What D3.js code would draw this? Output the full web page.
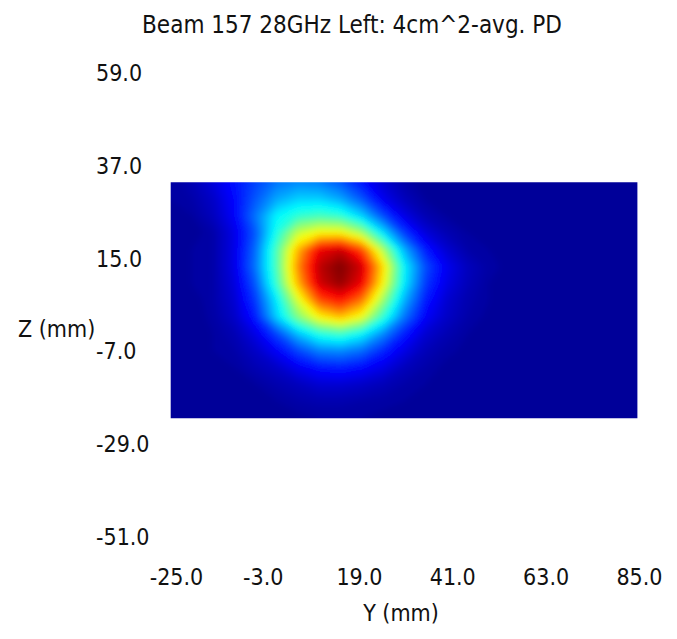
<!DOCTYPE html>
<html lang="en">
<head>
<meta charset="utf-8">
<title>Beam 157 28GHz Left: 4cm^2-avg. PD</title>
<script src="https://cdn.jsdelivr.net/npm/d3@7"></script>
<style>
body { margin: 0; background: #fff; }
svg text { font-family: "DejaVu Sans Condensed", "DejaVu Sans", sans-serif; font-size: 23px; fill: #111; }
svg text.title { font-size: 24px; }
</style>
</head>
<body>
<script>
// sample positions of the PD grid (mm)
var yPos = [-25, -20, -15, -10, -5, 0, 5, 10, 15, 20, 25, 30, 35, 40, 45, 50, 55, 60, 65, 70, 75, 80, 85];
var zPos = [33, 29, 25, 21, 17, 13, 9, 5, 1, -3, -7, -11, -15, -19, -23];

// normalised 4cm^2-avg. power density, one row per Z (top to bottom)
var pd = [
  [0.03, 0.05, 0.09, 0.14, 0.19, 0.24, 0.26, 0.25, 0.21, 0.14, 0.08, 0.04, 0.02, 0.02, 0.02, 0.02, 0.02, 0.02, 0.02, 0.02, 0.02, 0.02, 0.02],
  [0.03, 0.04, 0.07, 0.13, 0.21, 0.29, 0.33, 0.33, 0.29, 0.21, 0.11, 0.06, 0.03, 0.02, 0.02, 0.02, 0.02, 0.02, 0.02, 0.02, 0.02, 0.02, 0.02],
  [0.02, 0.03, 0.06, 0.12, 0.24, 0.37, 0.42, 0.44, 0.42, 0.33, 0.20, 0.10, 0.05, 0.03, 0.02, 0.02, 0.02, 0.02, 0.02, 0.02, 0.02, 0.02, 0.02],
  [0.02, 0.02, 0.04, 0.10, 0.21, 0.40, 0.57, 0.63, 0.63, 0.54, 0.35, 0.18, 0.09, 0.05, 0.03, 0.02, 0.02, 0.02, 0.02, 0.02, 0.02, 0.02, 0.02],
  [0.02, 0.03, 0.04, 0.10, 0.23, 0.45, 0.70, 0.89, 0.93, 0.81, 0.55, 0.30, 0.15, 0.08, 0.04, 0.03, 0.02, 0.02, 0.02, 0.02, 0.02, 0.02, 0.02],
  [0.02, 0.03, 0.04, 0.10, 0.24, 0.45, 0.74, 0.94, 1.00, 0.92, 0.66, 0.37, 0.20, 0.11, 0.06, 0.035, 0.025, 0.02, 0.02, 0.02, 0.02, 0.02, 0.02],
  [0.02, 0.03, 0.04, 0.09, 0.21, 0.43, 0.70, 0.92, 0.98, 0.89, 0.63, 0.36, 0.18, 0.10, 0.055, 0.03, 0.02, 0.02, 0.02, 0.02, 0.02, 0.02, 0.02],
  [0.02, 0.02, 0.04, 0.08, 0.18, 0.36, 0.59, 0.80, 0.86, 0.76, 0.53, 0.30, 0.15, 0.08, 0.045, 0.03, 0.02, 0.02, 0.02, 0.02, 0.02, 0.02, 0.02],
  [0.02, 0.02, 0.035, 0.07, 0.15, 0.33, 0.50, 0.63, 0.69, 0.61, 0.42, 0.24, 0.12, 0.07, 0.04, 0.025, 0.02, 0.02, 0.02, 0.02, 0.02, 0.02, 0.02],
  [0.02, 0.02, 0.03, 0.05, 0.10, 0.19, 0.31, 0.40, 0.43, 0.37, 0.26, 0.15, 0.08, 0.05, 0.03, 0.02, 0.02, 0.02, 0.02, 0.02, 0.02, 0.02, 0.02],
  [0.02, 0.02, 0.03, 0.04, 0.07, 0.12, 0.19, 0.25, 0.26, 0.23, 0.16, 0.10, 0.055, 0.035, 0.025, 0.02, 0.02, 0.02, 0.02, 0.02, 0.02, 0.02, 0.02],
  [0.02, 0.02, 0.02, 0.03, 0.05, 0.07, 0.11, 0.14, 0.15, 0.13, 0.10, 0.06, 0.04, 0.025, 0.02, 0.02, 0.02, 0.02, 0.02, 0.02, 0.02, 0.02, 0.02],
  [0.02, 0.02, 0.02, 0.025, 0.03, 0.045, 0.06, 0.08, 0.08, 0.07, 0.055, 0.04, 0.03, 0.02, 0.02, 0.02, 0.02, 0.02, 0.02, 0.02, 0.02, 0.02, 0.02],
  [0.02, 0.02, 0.02, 0.02, 0.025, 0.03, 0.04, 0.045, 0.045, 0.04, 0.035, 0.03, 0.025, 0.02, 0.02, 0.02, 0.02, 0.02, 0.02, 0.02, 0.02, 0.02, 0.02],
  [0.02, 0.02, 0.02, 0.02, 0.02, 0.025, 0.025, 0.03, 0.03, 0.03, 0.025, 0.02, 0.02, 0.02, 0.02, 0.02, 0.02, 0.02, 0.02, 0.02, 0.02, 0.02, 0.02]
];

var yTicks = [-25, -3, 19, 41, 63, 85];
var zTicks = [59, 37, 15, -7, -29, -51];

var w = 677, h = 639;

var svg = d3.select("body").append("svg")
    .attr("width", w)
    .attr("height", h);

var xScale = d3.scaleLinear().domain([-25, 85]).range([170.7, 637.4]);
var yScale = d3.scaleLinear().domain([59, -51]).range([72.8, 536.1]);

// jet colour map
var jet = d3.scaleLinear()
    .domain([0, 0.125, 0.375, 0.625, 0.875, 1])
    .range(["#000080", "#0000ff", "#00ffff", "#ffff00", "#ff0000", "#800000"])
    .clamp(true);

// grid index -> mm (d3.contours puts sample i at i + 0.5)
var gx = d3.scaleLinear().domain([0.5, yPos.length - 0.5]).range([yPos[0], yPos[yPos.length - 1]]);
var gz = d3.scaleLinear().domain([0.5, zPos.length - 0.5]).range([zPos[0], zPos[zPos.length - 1]]);

var proj = d3.geoTransform({
    point: function(x, y) {
        this.stream.point(xScale(gx(x)), yScale(gz(y)));
    }
});
var path = d3.geoPath(proj);

var step = 0.01;
var levels = d3.range(0, 1, step);
var bands = d3.contours()
    .size([yPos.length, zPos.length])
    .thresholds(levels)(pd.flat());

var x0 = xScale(yPos[0]), x1 = xScale(yPos[yPos.length - 1]);
var y0 = yScale(zPos[0]), y1 = yScale(zPos[zPos.length - 1]);

var defs = svg.append("defs");
defs.append("clipPath").attr("id", "clip")
    .append("rect")
    .attr("x", x0).attr("y", y0)
    .attr("width", x1 - x0).attr("height", y1 - y0);
defs.append("filter").attr("id", "soft")
    .attr("x", "-10%").attr("y", "-10%").attr("width", "120%").attr("height", "120%")
    .append("feGaussianBlur").attr("stdDeviation", 3);

var map = svg.append("g").attr("clip-path", "url(#clip)")
    .append("g").attr("filter", "url(#soft)");

map.selectAll("path")
    .data(bands)
    .enter()
    .append("path")
    .attr("d", path)
    .attr("fill", function(d) { return jet(d.value + step / 2); });

// title
svg.append("text")
    .attr("class", "title")
    .attr("x", 352)
    .attr("y", 33)
    .attr("text-anchor", "middle")
    .text("Beam 157 28GHz Left: 4cm^2-avg. PD");

// axes (labels only)
var xAxis = d3.axisBottom(xScale)
    .tickValues(yTicks)
    .tickSize(0)
    .tickFormat(function(d) { return d.toFixed(1); });

svg.append("g")
    .attr("transform", "translate(0,577)")
    .call(xAxis)
    .call(function(g) { g.select(".domain").remove(); })
    .selectAll("text")
    .attr("text-anchor", "start")
    .attr("x", -21.5)
    .attr("y", 0)
    .attr("dy", "0.35em");

var yAxis = d3.axisLeft(yScale)
    .tickValues(zTicks)
    .tickSize(0)
    .tickFormat(function(d) { return d.toFixed(1); });

svg.append("g")
    .attr("transform", "translate(96,0)")
    .call(yAxis)
    .call(function(g) { g.select(".domain").remove(); })
    .selectAll("text")
    .attr("text-anchor", "start")
    .attr("x", 0)
    .attr("dy", "0.35em");

svg.append("text")
    .attr("x", 401)
    .attr("y", 613)
    .attr("dy", "0.35em")
    .attr("text-anchor", "middle")
    .text("Y (mm)");

svg.append("text")
    .attr("x", 18)
    .attr("y", 329)
    .attr("dy", "0.35em")
    .text("Z (mm)");
</script>
</body>
</html>
